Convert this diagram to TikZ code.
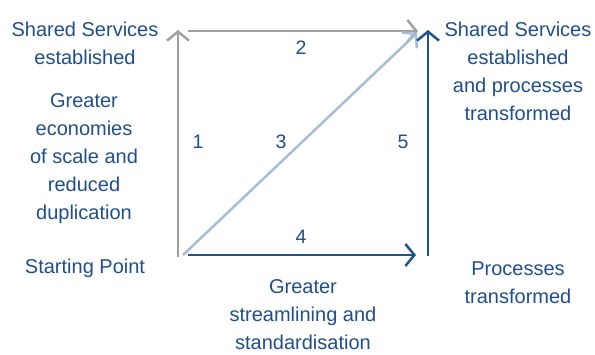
\documentclass[tikz,border=0pt]{standalone}
\usepackage{fontspec}
\setmainfont{Liberation Sans}
\usetikzlibrary{arrows.meta}
\definecolor{txtblue}{RGB}{31,78,140}
\definecolor{arrblue}{RGB}{30,82,145}
\definecolor{arrgrey}{RGB}{160,160,160}
\definecolor{arrlight}{RGB}{165,190,215}
\tikzset{
  lbl/.style={text=txtblue, align=center, font=\fontsize{20}{28}\selectfont, inner sep=0pt},
  num/.style={text=txtblue, font=\fontsize{19.5}{22}\selectfont, inner sep=0pt},
  conn/.style={line width=2.5pt, -{Straight Barb[length=9pt,width=22pt,line width=2.5pt]}},
}
\begin{document}
\begin{tikzpicture}[x=1pt,y=-1pt]
\useasboundingbox (0,0) rectangle (595,354);
\coordinate (lb) at (178,257);
\coordinate (lt) at (178,30);
\coordinate (tl) at (188,31);
\coordinate (tr) at (418,31);
\coordinate (db) at (183,255);
\coordinate (dt) at (417,33);
\coordinate (rb) at (428,256);
\coordinate (rt) at (428,30);
\coordinate (bl) at (188,255);
\coordinate (br) at (416,255);
\draw[conn, draw=arrgrey] (lb) -- (lt);
\draw[conn, draw=arrgrey] (tl) -- (tr);
\draw[conn, draw=arrlight] (db) -- (dt);
\draw[conn, draw=arrblue] (rb) -- (rt);
\draw[conn, draw=arrblue] (bl) -- (br);
\node[num] (n1) at (198,142) {1};
\node[num] (n2) at (301,48) {2};
\node[num] (n3) at (281,142) {3};
\node[num] (n4) at (301,237) {4};
\node[num] (n5) at (403,142) {5};
\node[lbl] (sse) at (85,43) {Shared Services\\established};
\node[lbl] (econ) at (84,159) {Greater\\economies\\of scale and\\reduced\\duplication};
\node[lbl] (start) at (85,268) {Starting Point};
\node[lbl] (ssp) at (518,71) {Shared Services\\established\\and processes\\transformed};
\node[lbl] (proc) at (518,283) {Processes\\transformed};
\node[lbl] (stream) at (303,315) {Greater\\streamlining and\\standardisation};
\end{tikzpicture}
\end{document}
